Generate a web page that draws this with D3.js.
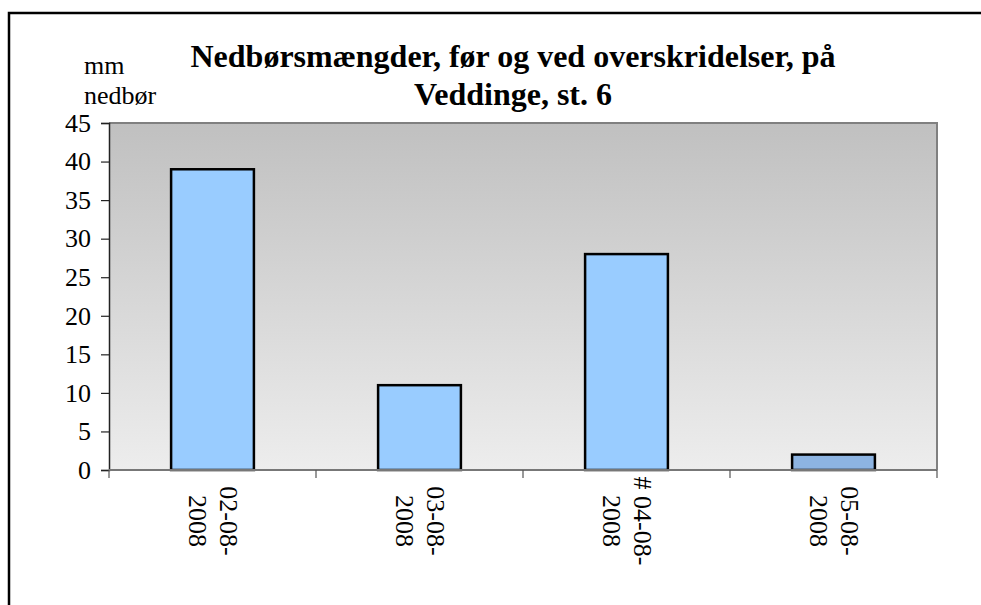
<!DOCTYPE html>
<html>
<head>
<meta charset="utf-8">
<script src="https://cdn.jsdelivr.net/npm/d3@7"></script>
<style>
  body { margin: 0; background: #fff; }
</style>
</head>
<body>
<div id="chart"></div>
<script>
// data
const dates = ["02-08-2008", "03-08-2008", "04-08-2008", "05-08-2008"];
const dateLabels = [["02-08-", "2008"], ["03-08-", "2008"], ["# 04-08-", "2008"], ["05-08-", "2008"]];
const rain = [39, 11, 28, 2];
const barColors = ["#99ccff", "#99ccff", "#99ccff", "#8db4e2"];
const yTicks = [0, 5, 10, 15, 20, 25, 30, 35, 40, 45];
const titleLines = ["Nedbørsmængder, før og ved overskridelser, på", "Veddinge, st. 6"];
const yLabelLines = ["mm", "nedbør"];

const width = 981, height = 605;
const plot = { left: 109, right: 937, top: 123, bottom: 470 };
const serif = '"Liberation Serif", "Times New Roman", serif';

const svg = d3.select("#chart").append("svg")
    .attr("width", width)
    .attr("height", height)
    .style("display", "block");

// outer frame (right / bottom edges fall outside the picture)
svg.append("rect")
    .attr("x", 9).attr("y", 13)
    .attr("width", 980).attr("height", 620)
    .attr("fill", "none")
    .attr("stroke", "#000")
    .attr("stroke-width", 2.5);

const x = d3.scaleBand()
    .domain(dates)
    .range([plot.left, plot.right])
    .paddingInner(0.6)
    .paddingOuter(0.3);

const y = d3.scaleLinear()
    .domain([0, 45])
    .range([plot.bottom, plot.top]);

// plot background gradient
const grad = svg.append("defs").append("linearGradient")
    .attr("id", "bg")
    .attr("x1", 0).attr("y1", 0).attr("x2", 0).attr("y2", 1);
grad.append("stop").attr("offset", "0%").attr("stop-color", "#c0c0c0");
grad.append("stop").attr("offset", "100%").attr("stop-color", "#ededed");

svg.append("rect")
    .attr("x", plot.left).attr("y", plot.top)
    .attr("width", plot.right - plot.left)
    .attr("height", plot.bottom - plot.top)
    .attr("fill", "url(#bg)");

// top and right frame of plot area
svg.append("path")
    .attr("d", `M${plot.left},${plot.top}H${plot.right}V${plot.bottom}`)
    .attr("fill", "none")
    .attr("stroke", "#808080")
    .attr("stroke-width", 2);

// bars
svg.append("g")
    .selectAll("rect")
    .data(rain)
    .enter().append("rect")
    .attr("x", (d, i) => x(dates[i]))
    .attr("y", d => y(d))
    .attr("width", x.bandwidth())
    .attr("height", d => y(0) - y(d))
    .attr("fill", (d, i) => barColors[i])
    .attr("stroke", "#000")
    .attr("stroke-width", 2.5);

// y axis
const yAxis = svg.append("g")
    .attr("transform", `translate(${plot.left},0)`)
    .call(d3.axisLeft(y).tickValues(yTicks).tickSize(8).tickPadding(10));
yAxis.select(".domain").attr("stroke", "#222").attr("stroke-width", 1.5);
yAxis.selectAll(".tick line").attr("stroke", "#222").attr("stroke-width", 1.2);
yAxis.selectAll(".tick text")
    .style("font-family", serif)
    .style("font-size", "26px")
    .attr("fill", "#000");

// x axis: line at zero with ticks between categories
const gap = (x.step() - x.bandwidth()) / 2;
const bounds = dates.map(d => x(d) - gap).concat([x(dates[dates.length - 1]) + x.bandwidth() + gap]);
const xAxis = svg.append("g");
xAxis.append("line")
    .attr("x1", plot.left).attr("x2", plot.right)
    .attr("y1", y(0)).attr("y2", y(0))
    .attr("stroke", "#777")
    .attr("stroke-width", 2);
xAxis.selectAll(".xt")
    .data(bounds)
    .enter().append("line")
    .attr("class", "xt")
    .attr("x1", d => d).attr("x2", d => d)
    .attr("y1", y(0)).attr("y2", y(0) + 8)
    .attr("stroke", "#555")
    .attr("stroke-width", 1.2);

// rotated category labels
const lab = svg.append("g")
    .selectAll("text")
    .data(dateLabels)
    .enter().append("text")
    .attr("transform", (d, i) => `translate(${x(dates[i]) + x.bandwidth() / 2},521) rotate(90)`)
    .attr("text-anchor", "middle")
    .style("font-family", serif)
    .style("font-size", "26px")
    .attr("fill", "#000");
lab.selectAll("tspan")
    .data(d => d)
    .enter().append("tspan")
    .attr("x", 0)
    .attr("y", (d, j) => j === 0 ? -15.5 : 15.5)
    .attr("dominant-baseline", "central")
    .text(d => d);

// title
svg.append("g")
    .selectAll("text")
    .data(titleLines)
    .enter().append("text")
    .attr("x", 513)
    .attr("y", (d, i) => 67 + i * 38)
    .attr("text-anchor", "middle")
    .style("font-family", serif)
    .style("font-size", "32px")
    .style("font-weight", "bold")
    .attr("fill", "#000")
    .text(d => d);

// y axis caption
svg.append("g")
    .selectAll("text")
    .data(yLabelLines)
    .enter().append("text")
    .attr("x", 84)
    .attr("y", (d, i) => 74 + i * 30)
    .style("font-family", serif)
    .style("font-size", "26px")
    .attr("fill", "#000")
    .text(d => d);
</script>
</body>
</html>
